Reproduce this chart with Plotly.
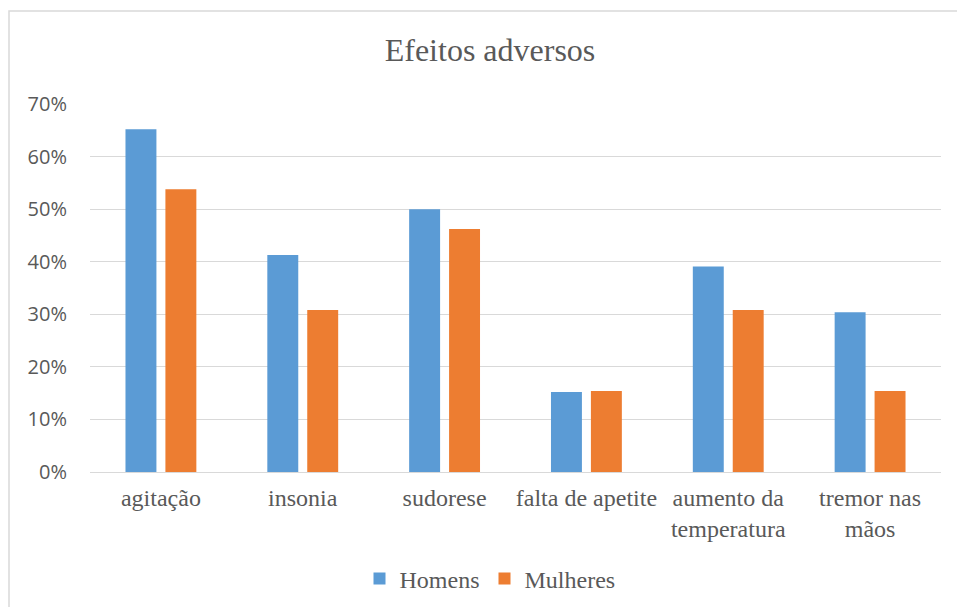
import plotly.graph_objects as go

categories = ["agitação", "insonia", "sudorese", "falta de apetite",
              "aumento da<br>temperatura", "tremor nas<br>mãos"]
homens = [0.652, 0.413, 0.500, 0.152, 0.391, 0.304]
mulheres = [0.538, 0.308, 0.462, 0.154, 0.308, 0.154]
tick_vals = [0, 0.1, 0.2, 0.3, 0.4, 0.5, 0.6, 0.7]
tick_text = ["0%", "10%", "20%", "30%", "40%", "50%", "60%", "70%"]

W, H = 957, 607
L, R, T, B = 90, 16, 104, 135
pw = W - L - R
ph = H - T - B

def px_x(x):
    return (x - L) / pw

def px_y(y):
    return (H - B - y) / ph

serif = "Liberation Serif"
sans = "Open Sans"
grey = "#595959"

fig = go.Figure()
fig.add_trace(go.Bar(x=categories, y=homens, name="Homens",
                     marker=dict(color="#5B9BD5", line=dict(width=0))))
fig.add_trace(go.Bar(x=categories, y=mulheres, name="Mulheres",
                     marker=dict(color="#ED7D31", line=dict(width=0))))

fig.update_layout(
    width=W, height=H,
    margin=dict(l=L, r=R, t=T, b=B, autoexpand=False),
    paper_bgcolor="white", plot_bgcolor="white",
    barmode="group", bargap=0.437, bargroupgap=0.225,
    title=dict(text="Efeitos adversos", x=490 / W, xanchor="center",
               y=1 - 50 / H, yanchor="middle",
               font=dict(family=serif, size=32, color=grey)),
    font=dict(family=serif, size=24, color=grey),
    legend=dict(orientation="h", x=px_x(490), xanchor="center",
                y=px_y(579), yanchor="middle",
                font=dict(family=serif, size=24, color=grey),
                itemwidth=30, tracegroupgap=0),
    showlegend=True,
)
fig.update_xaxes(showgrid=False, showline=True, linecolor="#d9d9d9", linewidth=1,
                 tickfont=dict(family=serif, size=24, color=grey),
                 ticks="", ticklabelstandoff=4)
fig.update_yaxes(range=[0, 0.7], tickvals=tick_vals, ticktext=tick_text,
                 showgrid=True, gridcolor="#d9d9d9", gridwidth=1,
                 zeroline=False, showline=False, ticks="",
                 ticklabelstandoff=22,
                 tickfont=dict(family=sans, size=20, color=grey))

fig.add_shape(type="rect", xref="paper", yref="paper",
              x0=px_x(9), x1=px_x(970), y0=px_y(625), y1=px_y(11),
              line=dict(color="#d9d9d9", width=1.5), fillcolor="rgba(0,0,0,0)",
              layer="below")

fig.write_html("out.html", config={"displayModeBar": False},
               post_script="document.body.style.margin='0px';")
